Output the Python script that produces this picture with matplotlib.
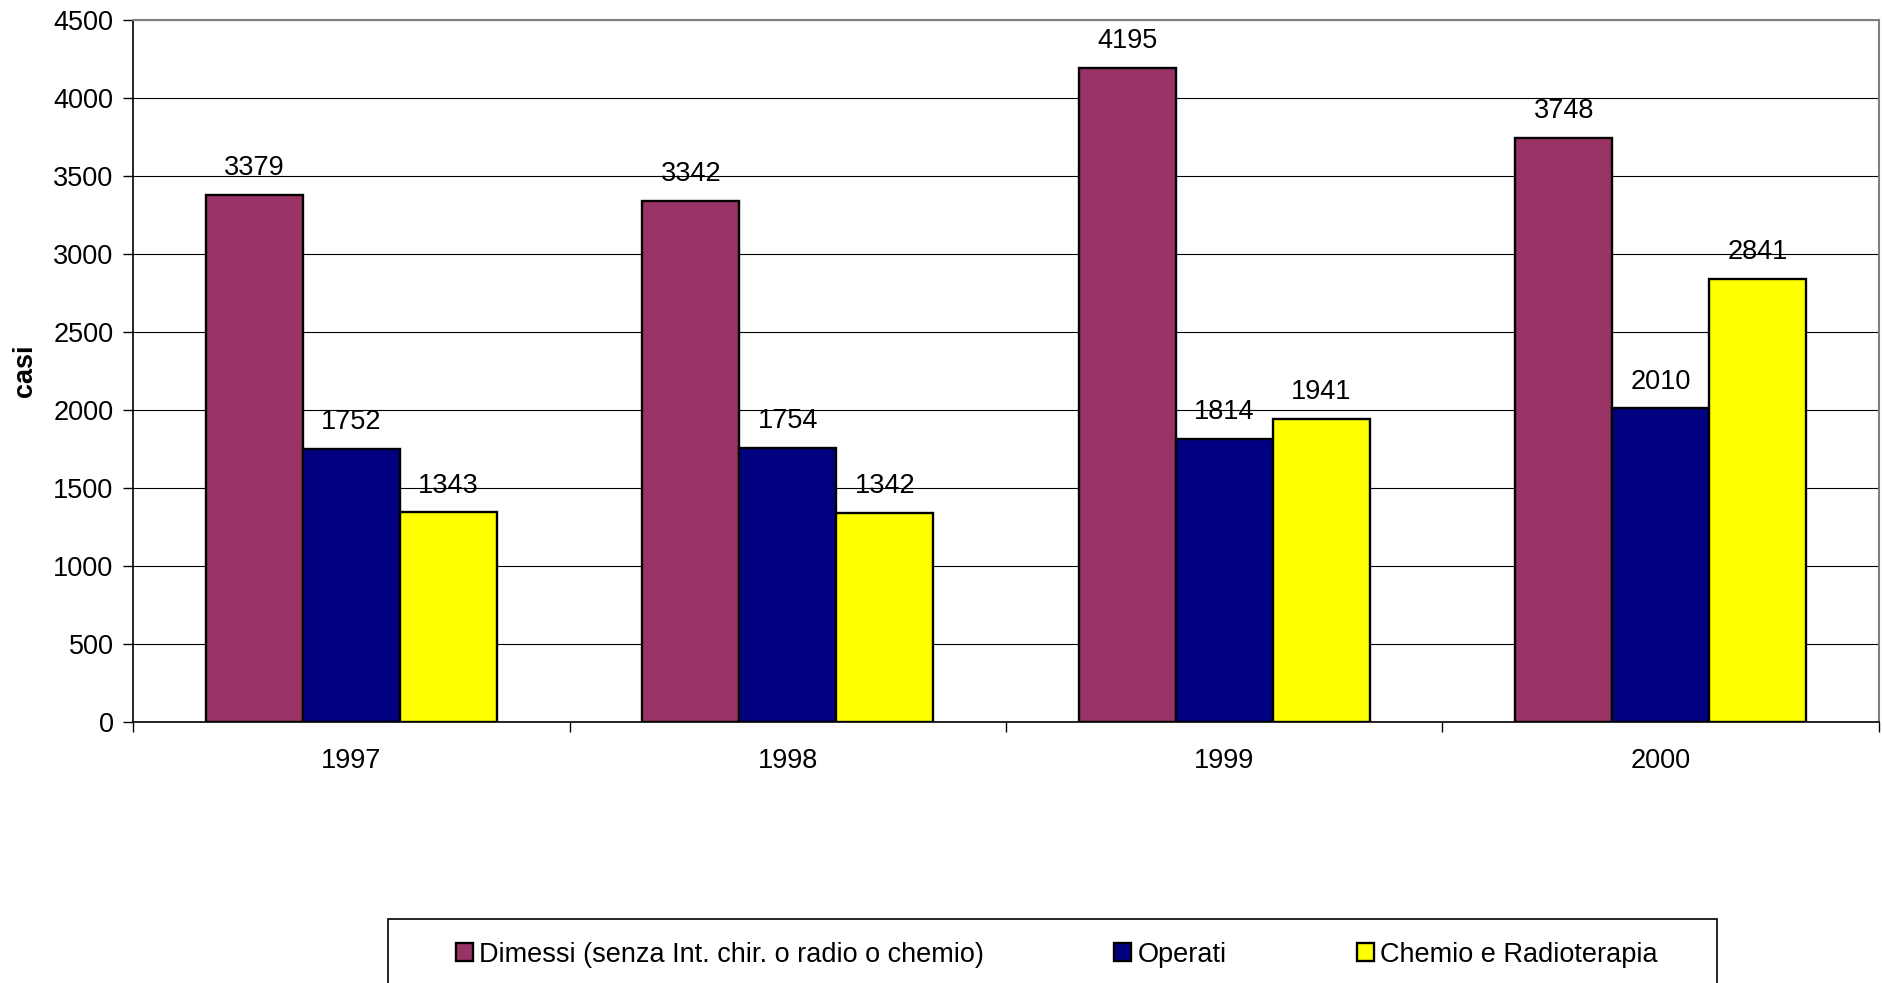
import matplotlib
matplotlib.use("Agg")
import matplotlib.pyplot as plt
from matplotlib.patches import Rectangle, Patch
import numpy as np

plt.rcParams['font.family'] = ['Liberation Sans', 'DejaVu Sans']

years = ['1997', '1998', '1999', '2000']
series_names = ['Dimessi (senza Int. chir. o radio o chemio)', 'Operati', 'Chemio e Radioterapia']
dimessi = [3379, 3342, 4195, 3748]
operati = [1752, 1754, 1814, 2010]
chemio = [1343, 1342, 1941, 2841]
colors = ['#993366', '#000080', '#FFFF00']
y_ticks = [0, 500, 1000, 1500, 2000, 2500, 3000, 3500, 4000, 4500]

W, H = 1883, 983
fig = plt.figure(figsize=(W / 100, H / 100), dpi=100)
ax = fig.add_axes([133 / W, 1 - 721.7 / H, (1879 - 133) / W, (721.7 - 20.4) / H])

fs = 19.5
x = np.arange(len(years))
bw = 1 / 4.5
for k, (vals, col) in enumerate(zip([dimessi, operati, chemio], colors)):
    pos = x + (k - 1) * bw
    bars = ax.bar(pos, vals, width=bw, color=col, edgecolor='black', linewidth=1.7, zorder=3)
    for b, v in zip(bars, vals):
        ax.annotate(str(v), (b.get_x() + b.get_width() / 2, v), xytext=(0, 10),
                    textcoords='offset points', ha='center', va='bottom', fontsize=fs, zorder=4)

ax.set_xlim(-0.5, len(years) - 0.5)
ax.set_ylim(0, 4500)
ax.set_yticks(y_ticks)
ax.set_yticklabels([str(t) for t in y_ticks], fontsize=fs)
ax.yaxis.grid(True, color='black', linewidth=0.8, zorder=0)
ax.set_axisbelow(True)

ax.set_xticks(np.arange(-0.5, len(years)), minor=False)
ax.set_xticklabels([])
ax.set_xticks(x, minor=True)
ax.set_xticklabels(years, minor=True, fontsize=fs)
ax.tick_params(axis='x', which='major', direction='out', length=7, width=1, color='black')
ax.tick_params(axis='x', which='minor', length=0, pad=19)
ax.tick_params(axis='y', direction='out', length=7, width=1, pad=7)

for s in ['top', 'right']:
    ax.spines[s].set_color('#808080')
    ax.spines[s].set_linewidth(1.5)
for s in ['left', 'bottom']:
    ax.spines[s].set_color('black')
    ax.spines[s].set_linewidth(1.2)

ax.set_ylabel('casi', fontsize=fs, fontweight='bold', labelpad=11)

# legend frame
fig.patches.append(Rectangle((388 / W, -0.05), (1717 - 388) / W, 0.05 + 1 - 919 / H,
                             transform=fig.transFigure, facecolor='white', edgecolor='black',
                             linewidth=1.2, zorder=1))
handles = [Patch(facecolor=c, edgecolor='black', linewidth=1.7) for c in colors]
leg = fig.legend(handles, series_names, loc='center left', bbox_to_anchor=(456 / W, 1 - 954.5 / H),
                 ncol=3, frameon=False, fontsize=fs, handlelength=0.64, handleheight=0.64,
                 handletextpad=0.22, columnspacing=4.8, borderpad=0, borderaxespad=0)
leg.set_zorder(5)

fig.savefig('out.png', dpi=100)
